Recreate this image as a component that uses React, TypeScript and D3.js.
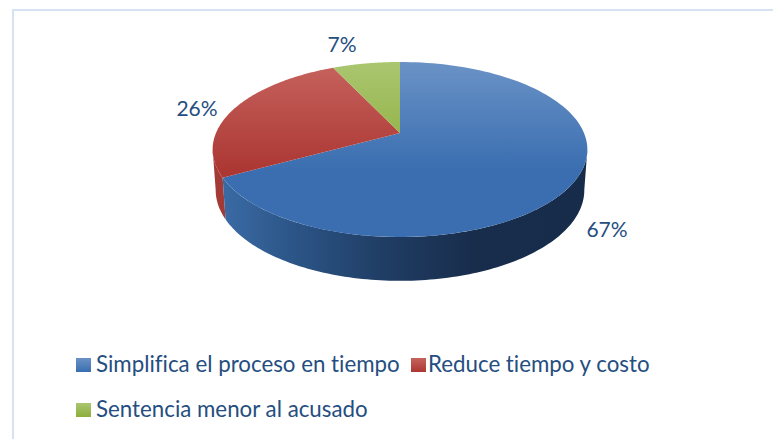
import React from "react";
import * as d3 from "d3";

const categories = ["Simplifica el proceso en tiempo", "Reduce tiempo y costo", "Sentencia menor al acusado"];
const values = [67, 26, 7];
const labels = ["67%", "26%", "7%"];
const labelX = [607, 197, 342];
const labelY = [237, 116, 52];
const topStops = [["#6a92c6", "#3a6eb0"], ["#c6635e", "#ac3733"], ["#aac670", "#8cae3c"]];
const legendSwatchX = [76, 411, 76];
const legendTextX = [96, 428, 96];
const legendY = [365, 365, 410];

const CX = 400, CY = 133, B = 184, A = 84.4, K = 0.1886;
const project = (a: number, cy = CY, b = B, aa = A): [number, number] => {
  const u = Math.sin(a), v = -Math.cos(a), w = 1 - K * v;
  return [CX + (b * u) / w, cy + (aa * v) / w];
};
const line = d3.line<[number, number]>();
const sample = (a0: number, a1: number, f: (a: number) => [number, number]) =>
  d3.range(0, 121).map((i) => f(a0 + ((a1 - a0) * i) / 120));

const LOW_CY = 173, LOW_B = 181, LOW_A = 87.5;
const wall = (a0: number, a1: number) =>
  line([
    ...sample(a0, a1, (a) => project(a)),
    ...sample(a1, a0, (a) => project(a, LOW_CY, LOW_B, LOW_A)),
  ]) + "Z";

const arcs = d3.pie<number>().sort(null)(values);
const TANGENT = Math.asin(K);
const visibleStart = Math.PI / 2 + TANGENT;
const visibleEnd = (3 * Math.PI) / 2 - TANGENT;
const wallStops: [number, string][] = [
  [0, "#172b4a"], [0.3, "#182c4b"], [0.55, "#1f3c62"], [0.8, "#2b5486"], [1, "#3a6aa4"],
];

export default function App() {
  const blueEnd = arcs[0].endAngle;
  return (
    <svg width={773} height={439} style={{ position: "absolute", left: 0, top: 0, background: "#fff" }}
      fontFamily="Lato, 'Open Sans', sans-serif">
      <defs>
        {topStops.map((s, i) => (
          <linearGradient key={i} id={`top${i}`} gradientUnits="userSpaceOnUse" x1={0} y1={62} x2={0} y2={237}>
            <stop offset="0" stopColor={s[0]} />
            <stop offset="0.62" stopColor={s[1]} />
            <stop offset="1" stopColor={s[1]} />
          </linearGradient>
        ))}
        {topStops.map((s, i) => (
          <linearGradient key={i} id={`sw${i}`} x1="0" y1="0" x2="0" y2="1">
            <stop offset="0" stopColor={s[0]} />
            <stop offset="1" stopColor={s[1]} />
          </linearGradient>
        ))}
        <linearGradient id="blueWall" gradientUnits="userSpaceOnUse" x1={590} y1={0} x2={224} y2={0}>
          {wallStops.map(([o, c]) => <stop key={o} offset={o} stopColor={c} />)}
        </linearGradient>
      </defs>
      <path d="M13 439V10H773" fill="none" stroke="#d6e2f3" strokeWidth={2} />
      <path d={wall(blueEnd, visibleEnd)} fill="#a33a36" />
      <path d={wall(visibleStart, blueEnd)} fill="url(#blueWall)" />
      {arcs.map((d, i) => (
        <path key={i} fill={`url(#top${i})`}
          d={line([[CX, CY], ...sample(d.startAngle, d.endAngle, (a) => project(a))])! + "Z"} />
      ))}
      {labels.map((t, i) => (
        <text key={t} x={labelX[i]} y={labelY[i]} fontSize={21} fill="#254e80" textAnchor="middle">{t}</text>
      ))}
      {categories.map((c, i) => (
        <g key={c}>
          <rect x={legendSwatchX[i]} y={legendY[i] - 7} width={15} height={14} fill={`url(#sw${i})`} />
          <text x={legendTextX[i]} y={legendY[i] + 7} fontSize={22.3} fill="#254e80"
            style={{ fontVariantLigatures: "none" }}>{c}</text>
        </g>
      ))}
    </svg>
  );
}
